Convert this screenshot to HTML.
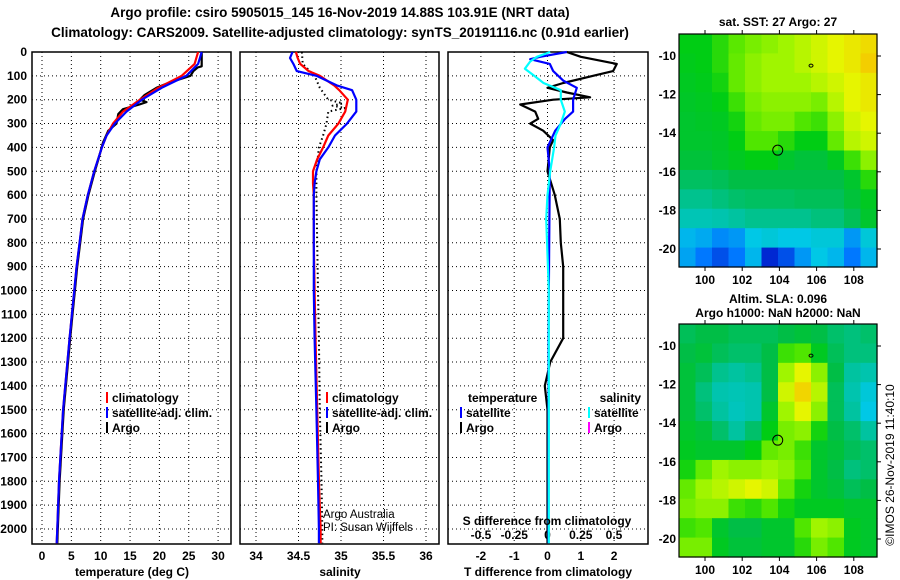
<!DOCTYPE html>
<html><head><meta charset="utf-8"><style>
html,body{margin:0;padding:0;background:#fff;}
svg{display:block;font-family:"Liberation Sans",Arial,sans-serif;font-weight:bold;}
</style></head><body>
<svg id="c" width="900" height="580" viewBox="0 0 900 580" xmlns="http://www.w3.org/2000/svg">
<text x="340" y="17" font-size="13.5" text-anchor="middle">Argo profile: csiro 5905015_145 16-Nov-2019 14.88S 103.91E (NRT data)</text>
<text x="340" y="37" font-size="13.5" text-anchor="middle">Climatology: CARS2009. Satellite-adjusted climatology: synTS_20191116.nc (0.91d earlier)</text>
<g id="g"></g>
<text transform="translate(894,465) rotate(-90)" font-size="12" font-weight="normal" text-anchor="middle">©IMOS 26-Nov-2019 11:40:10</text>
</svg>
<script>
// ---------- data ----------
const depthTicks=[0,100,200,300,400,500,600,700,800,900,1000,1100,1200,1300,1400,1500,1600,1700,1800,1900,2000];
const tTicks=[0,5,10,15,20,25,30];
const sTicks=[34,34.5,35,35.5,36];
const sTickLabels=["34","34.5","35","35.5","36"];
const dtTicks=[-2,-1,0,1,2];
const dsTicks=[-0.5,-0.25,0,0.25,0.5];
const dsTickLabels=["-0.5","-0.25","0","0.25","0.5"];

const argoTDepth=[0,60,65,80,100,130,150,180,200,210,220,240,260,300,330,380,450,500,600,700,800,900,1000,1100,1200,1500,1800,2000,2060];
const argoT=[27.2,27.2,26.5,25.8,25.3,21.5,19.5,17.5,16.7,17.8,16.6,13.8,13.0,12.7,11.3,10.4,9.6,9.0,7.9,7.0,6.5,6.0,5.6,5.2,4.8,3.7,3.0,2.7,2.6];
const climTDepth=[0,50,100,150,200,250,300,350,400,500,600,700,800,900,1000,1100,1200,1500,1800,2000,2060];
const climT=[26.6,26.0,23.8,19.8,16.7,13.8,12.1,11.0,10.2,8.9,7.8,6.9,6.4,5.9,5.5,5.1,4.7,3.6,2.9,2.6,2.5];
const satT=[27.2,26.6,24.6,20.4,17.0,14.4,12.4,11.0,10.2,8.9,7.8,6.9,6.4,5.9,5.5,5.1,4.7,3.6,2.9,2.6,2.5];

const sDepth=[0,25,50,80,100,140,160,200,250,300,350,400,450,500,550,600,800,1000,1200,1500,1800,2000,2060];
const climS=[34.47,34.49,34.52,34.62,34.75,34.92,34.98,35.08,35.05,34.97,34.85,34.79,34.72,34.67,34.67,34.68,34.68,34.69,34.70,34.72,34.74,34.76,34.76];
const satS=[34.43,34.40,34.44,34.48,34.71,34.95,35.13,35.18,35.18,35.07,34.93,34.85,34.75,34.71,34.69,34.68,34.68,34.68,34.69,34.71,34.73,34.74,34.74];
const argoSDepth=[0,50,100,150,200,215,225,235,250,300,350,400,500,600,800,1000,1200,1500,1800,2000,2060];
const argoS=[34.54,34.55,34.69,34.75,34.85,35.02,34.9,35.05,34.85,34.83,34.79,34.74,34.71,34.71,34.72,34.73,34.74,34.75,34.77,34.78,34.78];

const dtDepth=[0,20,50,80,100,130,150,170,190,200,220,250,280,300,330,370,400,500,600,700,800,900,1200,1300,1400,1500,1800,2060];
const dtArgo=[0.58,1.0,2.08,1.97,1.37,0.47,0.0,0.58,1.28,0.17,-0.82,-0.37,-0.28,-0.52,-0.13,0.17,0.07,0.0,0.22,0.37,0.40,0.47,0.47,0.08,-0.08,0.0,0.0,0.0];
const dtSatDepth=[0,20,30,50,80,120,150,200,250,280,330,400,500,800,1200,1600,2060];
const dtSat=[0.58,-0.22,-0.52,0.07,0.17,0.47,0.88,0.77,0.77,0.53,0.23,0.0,0.07,0.05,0.03,0.03,0.03];
const dsSatDepth=[0,20,40,70,100,130,160,200,250,300,350,400,500,600,700,1000,1500,2060];
const dsSat=[0.02,-0.08,-0.13,-0.17,-0.1,-0.03,0.1,0.1,0.13,0.1,0.06,0.05,0.02,0.0,-0.01,0.01,0.01,0.01];

const lonTicks=[100,102,104,106,108];
const latTicks=[-10,-12,-14,-16,-18,-20];
const sstGrid=[
[.66,.66,.70,.75,.78,.80,.82,.84,.86,.88,.90,.92],
[.65,.66,.70,.76,.80,.82,.82,.84,.86,.88,.90,.94],
[.64,.65,.68,.76,.80,.82,.82,.82,.84,.86,.88,.90],
[.63,.64,.66,.72,.78,.80,.80,.80,.78,.84,.88,.90],
[.62,.63,.64,.68,.76,.78,.78,.74,.72,.80,.86,.88],
[.62,.62,.63,.66,.74,.74,.70,.66,.66,.76,.84,.86],
[.60,.60,.62,.64,.66,.66,.62,.60,.60,.64,.72,.80],
[.55,.55,.56,.58,.58,.58,.58,.58,.58,.58,.62,.70],
[.50,.50,.52,.54,.55,.55,.55,.56,.56,.56,.60,.64],
[.45,.45,.46,.48,.50,.50,.50,.50,.52,.52,.56,.62],
[.35,.33,.28,.30,.38,.40,.38,.38,.40,.40,.30,.40],
[.32,.25,.20,.25,.35,.15,.20,.30,.38,.35,.25,.35]];
const slaGrid=[
[.56,.58,.58,.56,.56,.56,.58,.60,.58,.54,.52,.54],
[.58,.60,.56,.54,.54,.58,.72,.74,.64,.56,.52,.52],
[.60,.56,.50,.48,.50,.58,.82,.88,.80,.58,.48,.46],
[.60,.52,.46,.45,.46,.58,.86,.93,.84,.56,.46,.40],
[.60,.54,.48,.44,.46,.62,.82,.88,.80,.56,.48,.38],
[.62,.60,.54,.48,.54,.66,.78,.80,.68,.58,.54,.48],
[.64,.62,.62,.62,.66,.76,.78,.72,.62,.60,.56,.54],
[.68,.76,.82,.80,.80,.82,.80,.74,.62,.58,.52,.54],
[.76,.82,.84,.86,.88,.86,.76,.68,.62,.60,.56,.58],
[.78,.80,.80,.72,.70,.74,.68,.64,.64,.64,.62,.62],
[.72,.74,.62,.58,.58,.62,.62,.74,.82,.80,.64,.62],
[.78,.78,.64,.60,.60,.62,.62,.70,.78,.74,.64,.62]];
const argoLon=103.91, argoLat=-14.88;

// ---------- drawing ----------
const NS="http://www.w3.org/2000/svg";
const G=document.getElementById('g');
function mk(tag,attrs,parent){const e=document.createElementNS(NS,tag);for(const k in attrs)e.setAttribute(k,attrs[k]);(parent||G).appendChild(e);return e;}
function txt(x,y,s,size,anchor,weight){const e=mk('text',{x:x,y:y,'font-size':size||12,'text-anchor':anchor||'start'});if(weight)e.setAttribute('font-weight',weight);e.textContent=s;return e;}
const Y0=52, YPX=23.85/100, PB=544;
const yD=d=>Y0+d*YPX;
const xT=t=>42+t*5.87;
const xS=s=>256+(s-34)*85;
const xDT=v=>547.5+v*33.3;
const xDS=v=>547.5+v*133;
const panels=[[32,231],[240,439],[448,648]];

panels.forEach((p,i)=>{
  depthTicks.forEach(d=>{const l=mk('line',{x1:p[0],x2:p[1],y1:yD(d),y2:yD(d),stroke:'#000','stroke-width':1,'stroke-dasharray':'1 3'});
    
    });
});
tTicks.forEach(t=>{mk('line',{x1:xT(t),x2:xT(t),y1:Y0,y2:PB,stroke:'#000','stroke-dasharray':'1 3'});
  const e=txt(xT(t),560,String(t),12,'middle');
  
  });
sTicks.forEach((s,i)=>{mk('line',{x1:xS(s),x2:xS(s),y1:Y0,y2:PB,stroke:'#000','stroke-dasharray':'1 3'});
  const e=txt(xS(s),560,sTickLabels[i],12,'middle');
  
  });
dtTicks.forEach(v=>{mk('line',{x1:xDT(v),x2:xDT(v),y1:Y0,y2:PB,stroke:'#000','stroke-dasharray':'1 3'});
  const e=txt(xDT(v),560,String(v),12,'middle');
  
  });
dsTicks.forEach((v,i)=>{const e=txt(xDS(v),539,dsTickLabels[i],12,'middle');
  
  });
depthTicks.forEach(d=>{const e=txt(27,yD(d)+4,String(d),12,'end');
  
  });
panels.forEach((p,i)=>{const r=mk('rect',{x:p[0],y:Y0,width:p[1]-p[0],height:PB-Y0,fill:'none',stroke:'#000','stroke-width':1.5});
  
  });

function line(xs,ds,fx,color,w,dash,name){
  const pts=xs.map((v,i)=>fx(v).toFixed(1)+','+yD(ds[i]).toFixed(1)).join(' ');
  const a={points:pts,fill:'none',stroke:color,'stroke-width':w,'stroke-linejoin':'round'};
  if(dash)a['stroke-dasharray']=dash;
  const e=mk('polyline',a);
  
  
}
line(argoT,argoTDepth,xT,'#000',2.2,null,'argo-temperature-line');
line(climT,climTDepth,xT,'#f00',2.2,null,'climatology-temperature-line');
line(satT,climTDepth,xT,'#00f',2.2,null,'satellite-temperature-line');
line(argoS,argoSDepth,xS,'#000',2,'1.5 3','argo-salinity-line');
line(climS,sDepth,xS,'#f00',2.2,null,'climatology-salinity-line');
line(satS,sDepth,xS,'#00f',2.2,null,'satellite-salinity-line');
line(dtArgo,dtDepth,xDT,'#000',2.2,null,'argo-tdiff-line');
line(dtSat,dtSatDepth,xDT,'#00f',2.2,null,'satellite-tdiff-line');
line(dsSat,dsSatDepth,xDS,'#0ff',2.2,null,'satellite-sdiff-line');

[[132,'temperature (deg C)','temperature-axis-title'],[340,'salinity','salinity-axis-title'],[548,'T difference from climatology','tdiff-axis-title']].forEach(a=>{
  const e=txt(a[0],576,a[1],12,'middle');
  
  });
const sdt=txt(547,525,'S difference from climatology',12,'middle');



function leg(x,y,color,label,name){
  mk('line',{x1:x,x2:x,y1:y-10,y2:y+1,stroke:color,'stroke-width':2});
  const e=txt(x+5,y,label,12,'start');
  
  
}
leg(107,402,'#f00','climatology','legend-climatology');
leg(107,417,'#00f','satellite-adj. clim.','legend-satellite-adj');
leg(107,432,'#000','Argo','legend-argo');
leg(327,402,'#f00','climatology','legend2-climatology');
leg(327,417,'#00f','satellite-adj. clim.','legend2-satellite-adj');
leg(327,432,'#000','Argo','legend2-argo');
const tl=txt(468,402,'temperature',12);
leg(461,417,'#00f','satellite','legend-t-satellite');
leg(461,432,'#000','Argo','legend-t-argo');
const sl=txt(641,402,'salinity',12,'end');
leg(589,417,'#0ff','satellite','legend-s-satellite');
leg(589,432,'#f0f','Argo','legend-s-argo');
const c1=txt(323,518,'Argo Australia',11.5,'start','normal');
const c2=txt(323,531,'PI: Susan Wijffels',11.5,'start','normal');

const cmapStops=[[0.15,[0,40,210]],[0.25,[0,120,255]],[0.38,[0,200,230]],[0.48,[0,195,160]],[0.58,[0,190,70]],[0.66,[0,205,20]],[0.74,[80,230,0]],[0.82,[160,245,0]],[0.88,[230,245,0]],[0.95,[245,200,0]]];
function cmap(v){
  if(v<=cmapStops[0][0])return 'rgb('+cmapStops[0][1]+')';
  for(let i=1;i<cmapStops.length;i++){if(v<=cmapStops[i][0]){const a=cmapStops[i-1],b=cmapStops[i],f=(v-a[0])/(b[0]-a[0]);
    return 'rgb('+a[1].map((c,j)=>Math.round(c+(b[1][j]-c)*f)).join(',')+')';}}
  return 'rgb('+cmapStops[cmapStops.length-1][1]+')';
}
function drawMap(grid,top,bot,lat10y,lat20y,name){
  const L=679,R=877;
  const lonX=lo=>705+(lo-100)*18.6;
  const latY=la=>lat10y+(-10-la)*(lat20y-lat10y)/10;
  const g=mk('g',{});
  
  
  const rows=grid.length,cols=grid[0].length,cw=(R-L)/cols,rh=(bot-top)/rows;
  grid.forEach((row,r)=>row.forEach((v,c)=>{mk('rect',{x:(L+c*cw).toFixed(2),y:(top+r*rh).toFixed(2),width:(cw+0.6).toFixed(2),height:(rh+0.6).toFixed(2),fill:cmap(v)},g);}));
  mk('rect',{x:L,y:top,width:R-L,height:bot-top,fill:'none',stroke:'#000','stroke-width':1.2},g);
  lonTicks.forEach(lo=>{const x=lonX(lo);mk('line',{x1:x,x2:x,y1:top-4,y2:top,stroke:'#000'},g);mk('line',{x1:x,x2:x,y1:bot,y2:bot+4,stroke:'#000'},g);
    const e=txt(x,bot+17,String(lo),12,'middle');});
  latTicks.forEach(la=>{const y=latY(la);mk('line',{x1:R,x2:R+4,y1:y,y2:y,stroke:'#000'},g);
    const e=txt(L-3,y+4,String(la),12,'end');});
  const m=mk('circle',{cx:lonX(argoLon),cy:latY(argoLat),r:5,fill:'none',stroke:'#000','stroke-width':1},g);
  
  
  mk('ellipse',{cx:lonX(105.7),cy:latY(-10.5),rx:2,ry:1.5,fill:'none',stroke:'#000','stroke-width':1},g);
}
drawMap(sstGrid,34,267,56,249,'sst-map');
drawMap(slaGrid,324,557,346,539,'sla-map');
const m1=txt(778,26,'sat. SST: 27 Argo: 27',12,'middle');
const m2=txt(778,303,'Altim. SLA: 0.096',12,'middle');
const m3=txt(778,317,'Argo h1000: NaN h2000: NaN',12,'middle');
</script>
</body></html>
